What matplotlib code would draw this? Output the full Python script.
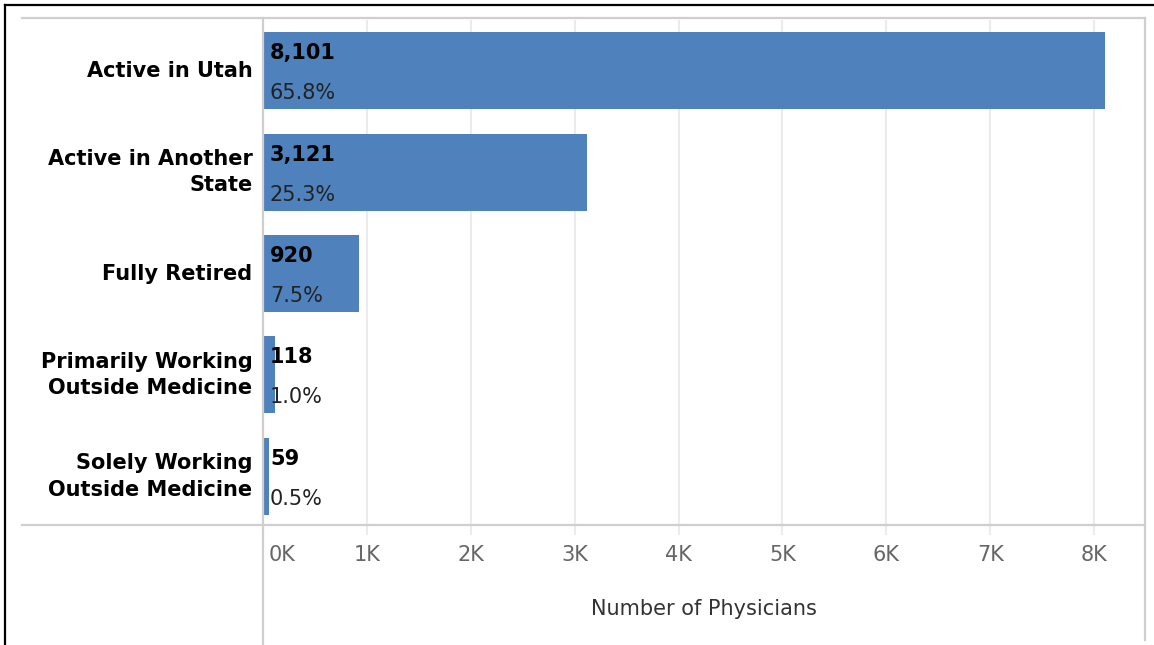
import matplotlib
matplotlib.use("Agg")
import matplotlib.pyplot as plt
from matplotlib.lines import Line2D

# datos
categories = ["Active in Utah", "Active in Another\nState", "Fully Retired",
              "Primarily Working\nOutside Medicine", "Solely Working\nOutside Medicine"]
counts = [8101, 3121, 920, 118, 59]
percents = ["65.8%", "25.3%", "7.5%", "1.0%", "0.5%"]
tick_values = [0, 1000, 2000, 3000, 4000, 5000, 6000, 7000, 8000]
tick_labels = ["0K", "1K", "2K", "3K", "4K", "5K", "6K", "7K", "8K"]

W, H = 1154, 645
BAR = "#4F81BD"
FRAME = "#CFCFCF"
GRID = "#EBEBEB"
FS = 15

plt.rcParams["font.family"] = "DejaVu Sans"


def fx(x):
    return x / W


def fy(y):
    return 1 - y / H


def main():
    fig = plt.figure(figsize=(W / 100, H / 100), dpi=100, facecolor="white")
    ax = fig.add_axes([fx(263), fy(527), fx(1145) - fx(263), fy(20) - fy(527)])

    ypos = list(range(len(categories)))
    ax.barh(ypos, counts, height=0.76, color=BAR, zorder=2)
    ax.set_ylim(len(categories) - 0.5, -0.5)
    ax.set_xlim(0, 8490)

    # rejilla vertical
    for v in tick_values[1:]:
        ax.axvline(v, color=GRID, lw=1.5, zorder=1)
    ax.set_xticks(tick_values[1:])
    ax.set_xticklabels([])
    ax.tick_params(axis="x", length=6, width=1.5, color=GRID)
    ax.set_yticks([])
    for s in ax.spines.values():
        s.set_visible(False)

    # etiquetas del eje x
    for v, lab in zip(tick_values, tick_labels):
        dx, ha = (4, "left") if v == 0 else (0, "center")
        ax.annotate(lab, (v, 0), xycoords=("data", "axes fraction"),
                    xytext=(dx, -20.5), textcoords="offset points",
                    ha=ha, va="center", fontsize=FS, color="#666666")
    fig.text(fx(704), fy(609), "Number of Physicians", ha="center", va="center",
             fontsize=FS, color="#333333")

    # categorías y valores
    for y, cat, n, p in zip(ypos, categories, counts, percents):
        ax.annotate(cat, (0, y), xytext=(-7.5, 0), textcoords="offset points",
                    ha="right", va="center", fontsize=FS, fontweight="bold",
                    color="black", linespacing=1.4)
        ax.annotate(f"{n:,}", (0, y), xytext=(5, 12.6), textcoords="offset points",
                    ha="left", va="center", fontsize=FS, fontweight="bold",
                    color="black", zorder=3)
        ax.annotate(p, (0, y), xytext=(5, -16.2), textcoords="offset points",
                    ha="left", va="center", fontsize=FS, color="#222222", zorder=3)

    # marco gris estilo Tableau
    for x0, y0, x1, y1 in [(22, 18, 1145, 18), (22, 525, 1145, 525),
                           (263, 18, 263, 645), (1145, 18, 1145, 640)]:
        fig.add_artist(Line2D([fx(x0), fx(x1)], [fy(y0), fy(y1)], color=FRAME,
                              lw=1.6, transform=fig.transFigure))
    # borde negro
    fig.add_artist(Line2D([fx(5), fx(W)], [fy(5), fy(5)], color="black", lw=1.6,
                          transform=fig.transFigure))
    fig.add_artist(Line2D([fx(5), fx(5)], [fy(5), fy(H)], color="black", lw=1.6,
                          transform=fig.transFigure))

    fig.savefig("out.png", dpi=100, facecolor="white")


if __name__ == "__main__":
    main()
